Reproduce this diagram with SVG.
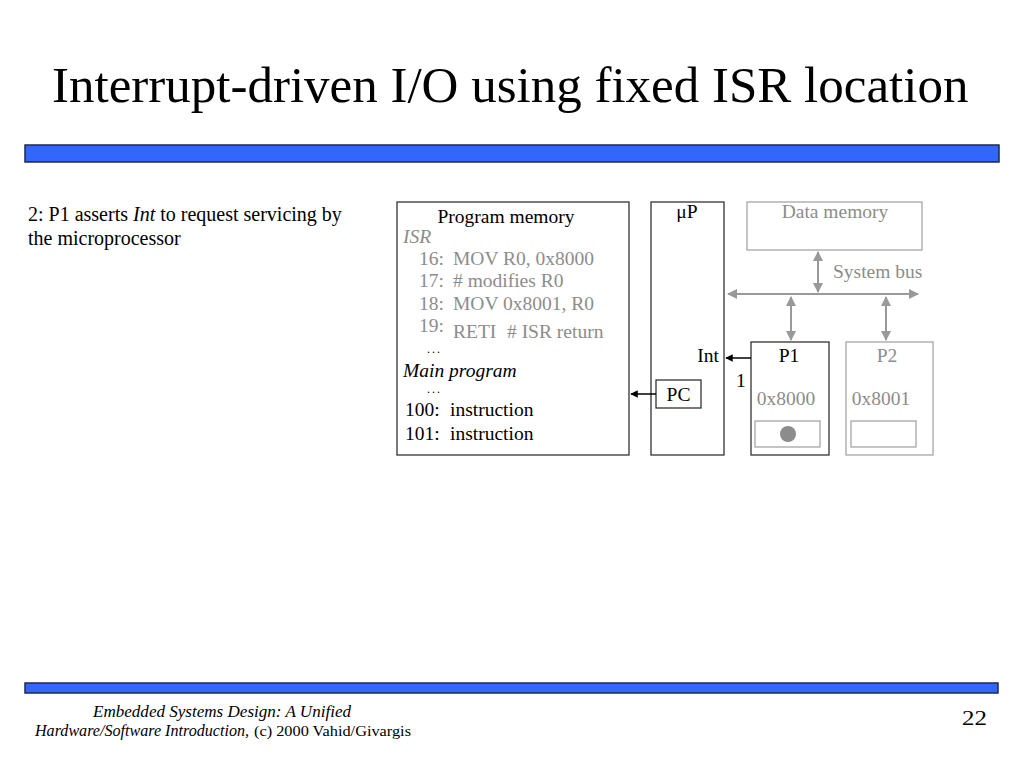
<svg xmlns="http://www.w3.org/2000/svg" width="1024" height="768" viewBox="0 0 1024 768">
<style>
text{font-family:"Liberation Serif","Times New Roman",serif;fill:#000}
.t{font-size:19.5px}
.g{fill:#8c8c8c}
.i{font-style:italic}
.d{font-size:12px}
.box{fill:none;stroke:#333;stroke-width:1.3}
.gbox{fill:none;stroke:#a6a6a6;stroke-width:1.3}
.bar{fill:#3366ff;stroke:#1c2a4d;stroke-width:1.5}
.bus{stroke:#999;stroke-width:2;fill:none}
.sig{stroke:#000;stroke-width:1.5;fill:none}
</style>
<defs>
<marker id="ga" viewBox="0 0 10 10" refX="9" refY="5" markerWidth="5" markerHeight="5" orient="auto-start-reverse"><path d="M0,0L10,5L0,10z" fill="#999"/></marker>
<marker id="ba" viewBox="0 0 10 10" refX="9" refY="5" markerWidth="5" markerHeight="5" orient="auto"><path d="M0,0L10,5L0,10z" fill="#000"/></marker>
</defs>
<rect width="1024" height="768" fill="#fff"/>
<text x="52" y="102" font-size="51">Interrupt-driven I/O using fixed ISR location</text>
<rect class="bar" x="25" y="145" width="974" height="17"/>
<rect class="bar" x="25" y="683" width="973" height="10"/>
<text x="28" y="221" font-size="20">2: P1 asserts <tspan class="i">Int</tspan> to request servicing by</text>
<text x="28" y="245" font-size="20">the microprocessor</text>
<g id="program-memory">
<rect class="box" x="397" y="202" width="232" height="253"/>
<text class="t" x="506" y="223" text-anchor="middle">Program memory</text>
<text class="t g i" x="403" y="243">ISR</text>
<text class="t g" x="419" y="265">16:</text><text class="t g" x="453" y="265">MOV R0, 0x8000</text>
<text class="t g" x="419" y="287">17:</text><text class="t g" x="453" y="287"># modifies R0</text>
<text class="t g" x="419" y="310">18:</text><text class="t g" x="453" y="310">MOV 0x8001, R0</text>
<text class="t g" x="419" y="332">19:</text><text class="t g" x="453" y="338">RETI</text><text class="t g" x="507" y="338"># ISR return</text>
<text class="d" x="427" y="353" textLength="13" lengthAdjust="spacing">...</text>
<text class="t i" x="403" y="377">Main program</text>
<text class="d" x="427" y="393" textLength="13" lengthAdjust="spacing">...</text>
<text class="t" x="405" y="416">100:</text><text class="t" x="450" y="416">instruction</text>
<text class="t" x="405" y="440">101:</text><text class="t" x="450" y="440">instruction</text>
</g>
<g id="up">
<rect class="box" x="651" y="202" width="73" height="253"/>
<text class="t" x="687" y="218" text-anchor="middle">μP</text>
<text class="t" x="719" y="362" text-anchor="end">Int</text>
</g>
<g id="pc">
<rect class="box" x="656" y="380" width="45" height="28"/>
<text class="t" x="678.5" y="401" text-anchor="middle">PC</text>
</g>
<g id="data-memory">
<rect class="gbox" x="747" y="202" width="175" height="48"/>
<text class="t g" x="835" y="218" text-anchor="middle">Data memory</text>
</g>
<g id="system-bus">
<text class="t g" x="833" y="278">System bus</text>
</g>
<g id="p1">
<rect class="box" x="751" y="342" width="78" height="113"/>
<text class="t" x="789" y="362" text-anchor="middle">P1</text>
<text class="t g" x="786" y="405" text-anchor="middle">0x8000</text>
<rect class="gbox" x="755" y="421" width="65" height="26"/>
<circle cx="788" cy="434" r="8" fill="#8c8c8c"/>
</g>
<g id="p2">
<rect class="gbox" x="846" y="342" width="87" height="113"/>
<text class="t g" x="887" y="362" text-anchor="middle">P2</text>
<text class="t g" x="881" y="405" text-anchor="middle">0x8001</text>
<rect class="gbox" x="851" y="421" width="65" height="26"/>
</g>
<g id="connectors">
<line class="bus" x1="728" y1="294" x2="918" y2="294" marker-start="url(#ga)" marker-end="url(#ga)"/>
<line class="bus" x1="818" y1="252" x2="818" y2="292" marker-start="url(#ga)" marker-end="url(#ga)"/>
<line class="bus" x1="791" y1="297" x2="791" y2="340" marker-start="url(#ga)" marker-end="url(#ga)"/>
<line class="bus" x1="886" y1="297" x2="886" y2="340" marker-start="url(#ga)" marker-end="url(#ga)"/>
<line class="sig" x1="751" y1="358" x2="726" y2="358" marker-end="url(#ba)"/>
<text class="t" x="736" y="387">1</text>
<line class="sig" x1="656" y1="394" x2="631" y2="394" marker-end="url(#ba)"/>
</g>
<text class="i" x="93" y="717" font-size="16" textLength="258" lengthAdjust="spacingAndGlyphs">Embedded Systems Design: A Unified</text>
<text class="i" x="35" y="736" font-size="16" textLength="214" lengthAdjust="spacingAndGlyphs">Hardware/Software Introduction,</text>
<text x="254" y="736" font-size="15" textLength="157" lengthAdjust="spacingAndGlyphs">(c) 2000 Vahid/Givargis</text>
<text x="962" y="725" font-size="20" textLength="25" lengthAdjust="spacingAndGlyphs">22</text>
</svg>
